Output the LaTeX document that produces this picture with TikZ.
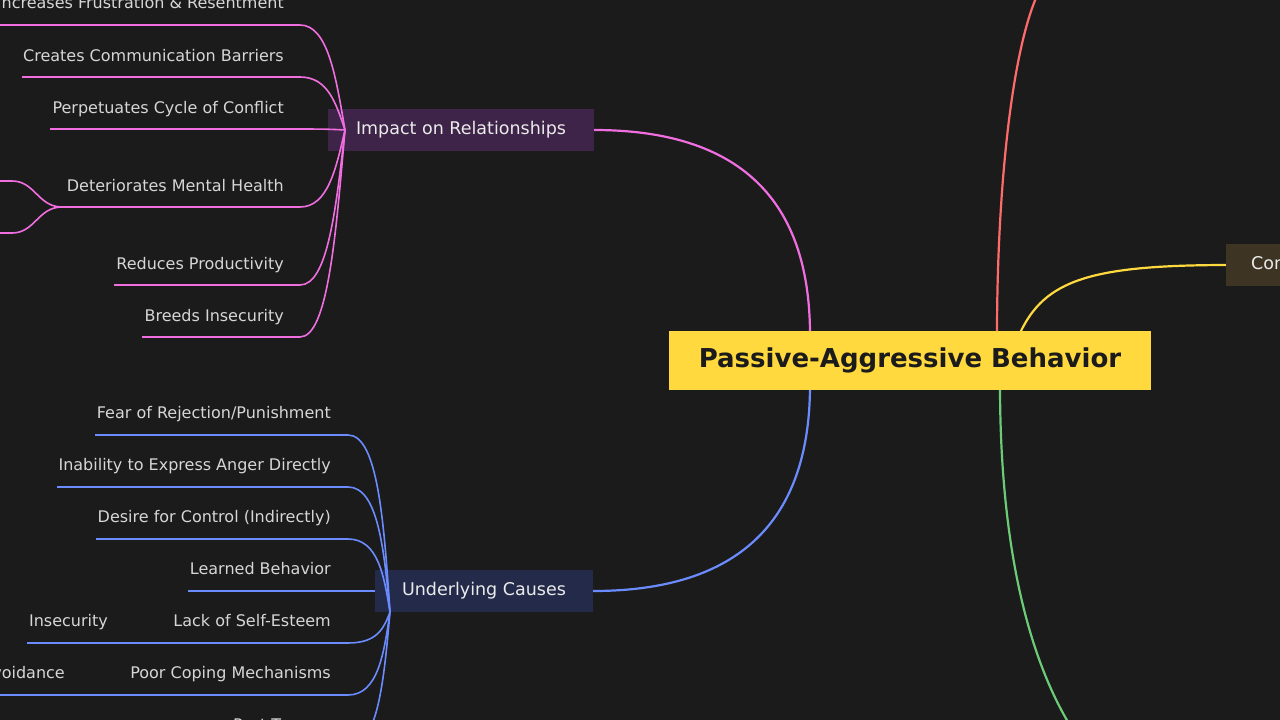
\documentclass[tikz,border=0pt]{standalone}
\usepackage{fontspec}
\setmainfont{DejaVu Sans}
\begin{document}
\begin{tikzpicture}[x=1pt,y=-1pt,
  lbl/.style={font=\fontsize{16}{18}\selectfont, text=txt, anchor=base east, inner sep=0},
  pk/.style={draw=pinkc, line width=1.6pt},
  bl/.style={draw=bluec, line width=1.6pt},
  br/.style={line width=2.2pt}]
\definecolor{bg}{HTML}{1B1B1B}
\definecolor{txt}{HTML}{D6D6D6}
\definecolor{pinkc}{HTML}{F06EE0}
\definecolor{bluec}{HTML}{6B8CFF}
\definecolor{redc}{HTML}{FF6B6B}
\definecolor{yelc}{HTML}{FFD93D}
\definecolor{grnc}{HTML}{6BCB77}
\useasboundingbox (0,0) rectangle (1280,720);
\fill[bg] (0,0) rectangle (1280,720);
\clip (0,0) rectangle (1280,720);
% main branches
\draw[br, draw=pinkc] (594,130) .. controls (740,130) and (810,200) .. (810,335);
\draw[br, draw=bluec] (593,591) .. controls (740,591) and (810,520) .. (810,385);
\draw[br, draw=redc] (997,335) .. controls (997,200) and (1010,60) .. (1036,-2);
\draw[br, draw=yelc] (1020,333) .. controls (1045,280) and (1090,265) .. (1230,265);
\draw[br, draw=grnc] (1000,385) .. controls (1000,520) and (1020,640) .. (1068,722);
% nodes
\node[fill=yelc, minimum width=482pt, minimum height=59pt, inner sep=0, font=\fontsize{26}{28}\selectfont\bfseries, text=bg] (root) at (910,360) {\raisebox{-1.5pt}{Passive-Aggressive Behavior}};
\node[fill={rgb,255:red,62;green,36;blue,72}, minimum width=266pt, minimum height=42pt, inner sep=0, font=\fontsize{17.5}{20}\selectfont, text=white!92!black] (imp) at (461,130) {\raisebox{-2pt}{Impact on Relationships}};
\node[fill={rgb,255:red,36;green,43;blue,74}, minimum width=218pt, minimum height=42pt, inner sep=0, font=\fontsize{17.5}{20}\selectfont, text=white!92!black] (cau) at (484,591) {\raisebox{-2pt}{Underlying Causes}};
\node[fill={rgb,255:red,61;green,52;blue,36}, minimum height=42pt, inner xsep=25pt, inner ysep=0, anchor=west, font=\fontsize{17.5}{20}\selectfont, text=white!92!black] (con) at (1226,265) {\raisebox{-2pt}{Consequences}};
% pink children
\foreach \y/\x/\t in {25/-5/{Increases Frustration \& Resentment}, 77/22/{Creates Communication Barriers}, 129/50/{Perpetuates Cycle of Conflict}, 207/62/{Deteriorates Mental Health}, 285/114/{Reduces Productivity}, 337/142/{Breeds Insecurity}}{
  \node[lbl] at (284,\y-16) {\t};
  \draw[pk] (\x,\y) -- (300,\y) .. controls (328,\y) and (336,{(\y+130)/2}) .. (345,130);
}
\draw[pk] (62,207) .. controls (38,207) and (35,181) .. (12,181) -- (-2,181);
\draw[pk] (62,207) .. controls (38,207) and (35,233) .. (12,233) -- (-2,233);
% blue children
\foreach \y/\x/\t in {435/95/{Fear of Rejection/Punishment}, 487/57/{Inability to Express Anger Directly}, 539/96/{Desire for Control (Indirectly)}, 643/27/{Lack of Self-Esteem}, 695/-5/{Poor Coping Mechanisms}, 747/200/{Past Trauma}}{
  \node[lbl] at (331,\y-17) {\t};
  \draw[bl] (\x,\y) -- (348,\y) .. controls (378,\y) and (384,{(\y+612)/2}) .. (390,612);
}
\node[lbl] at (331,574) {Learned Behavior};
\draw[bl] (188,591) -- (375,591);
\node[lbl] at (108,626) {Insecurity};
\node[lbl] at (65,678) {Avoidance};
\end{tikzpicture}
\end{document}
